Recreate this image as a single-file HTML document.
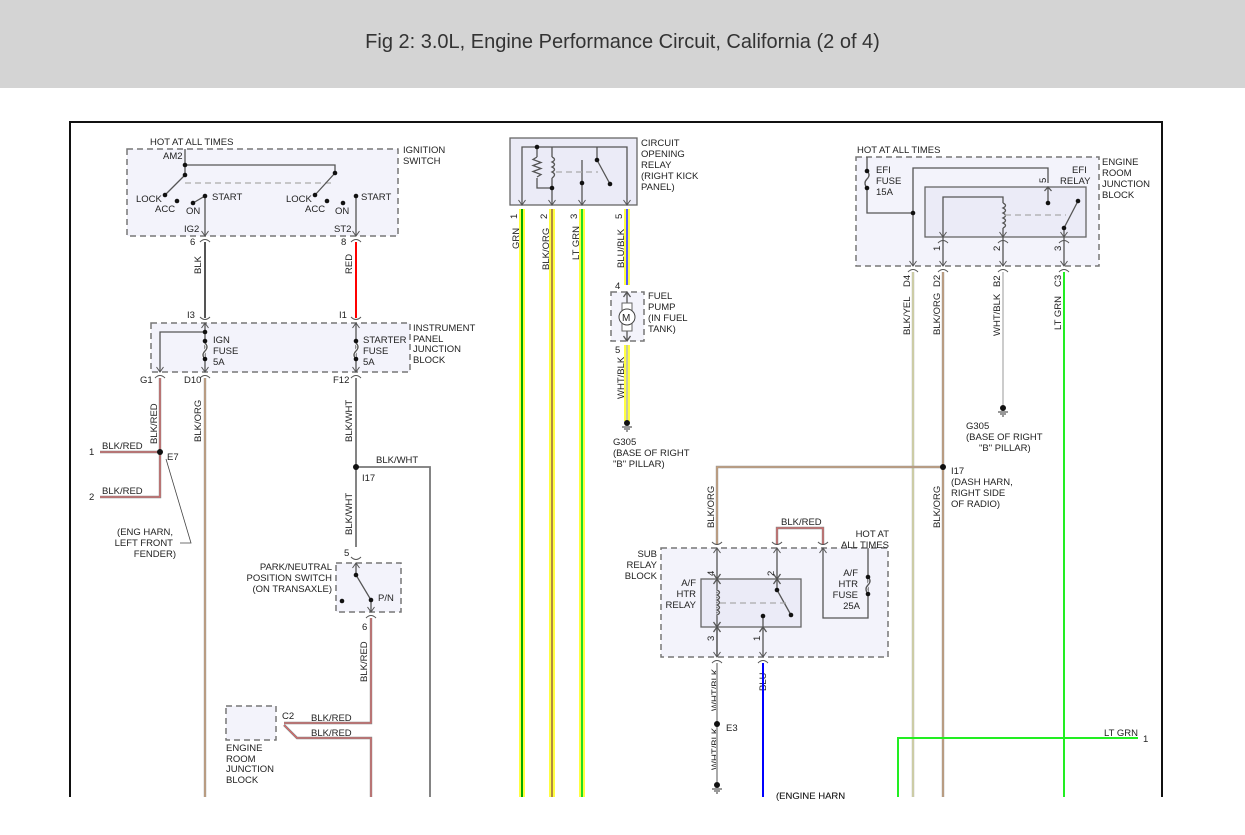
<!DOCTYPE html>
<html><head><meta charset="utf-8"><style>
body{margin:0;width:1245px;height:835px;background:#fff;overflow:hidden;font-family:"Liberation Sans",sans-serif}
#hd{position:absolute;left:0;top:0;width:1245px;height:88px;background:#d4d4d4;text-align:center;line-height:84px;font-size:20px;color:#333}
svg{position:absolute;left:0;top:0}
text{font-family:"Liberation Sans",sans-serif;font-size:9.5px;fill:#222}
.r{text-anchor:end}
.dash{fill:#f3f3fb;stroke:#777;stroke-width:1.5;stroke-dasharray:6,4}
.sol{fill:#ebebf7;stroke:#666;stroke-width:1.3}
.ln{stroke:#555;stroke-width:1.3;fill:none}
.dl{stroke:#aaa;stroke-width:1.2;stroke-dasharray:6,4;fill:none}
</style></head><body>
<div id="hd">Fig 2: 3.0L, Engine Performance Circuit, California (2 of 4)</div>
<svg width="1245" height="835" viewBox="0 0 1245 835">
<defs>
<g id="pd"><path d="M-3.5,-5 L0,0 L3.5,-5 M-5,6 Q0,1 5,6" stroke="#555" stroke-width="1" fill="none"/></g>
<g id="pu"><path d="M-3.5,5 L0,0 L3.5,5 M-5,-6 Q0,-1 5,-6" stroke="#555" stroke-width="1" fill="none"/></g>
<g id="gnd"><circle cx="0" cy="0" r="3" fill="#111"/><path d="M-5,4 H5 M-3,6 H3 M-1,8 H1" stroke="#333" stroke-width="1"/></g>
</defs>
<!-- frame -->
<path d="M70,797 V122 H1162 V797" stroke="#111" stroke-width="2" fill="none"/>

<!-- IGNITION SWITCH -->
<rect class="dash" x="127" y="149" width="271" height="87"/>
<text x="150" y="145">HOT AT ALL TIMES</text>
<text x="403" y="153">IGNITION</text><text x="403" y="164">SWITCH</text>
<text x="163" y="159">AM2</text>
<path class="ln" d="M185,149 V175 M185,165 H335 V173"/>
<path class="dl" d="M185,183 H335"/>
<path class="ln" d="M185,175 L165,195 M193,203 L205,196 V236 M335,173 L315,195 M356,196 V236"/>
<g fill="#111"><circle cx="185" cy="165" r="2.3"/><circle cx="185" cy="175" r="2.3"/><circle cx="165" cy="195" r="2.3"/><circle cx="177" cy="201" r="2.3"/><circle cx="193" cy="203" r="2.3"/><circle cx="205" cy="196" r="2.3"/><circle cx="335" cy="173" r="2.3"/><circle cx="315" cy="195" r="2.3"/><circle cx="327" cy="201" r="2.3"/><circle cx="343" cy="203" r="2.3"/><circle cx="356" cy="196" r="2.3"/></g>
<text x="136" y="202">LOCK</text><text x="155" y="212">ACC</text><text x="186" y="214">ON</text><text x="212" y="200">START</text>
<text x="286" y="202">LOCK</text><text x="305" y="212">ACC</text><text x="335" y="214">ON</text><text x="361" y="200">START</text>
<text x="184" y="232">IG2</text><text x="334" y="232">ST2</text>
<use href="#pd" x="205" y="236"/><use href="#pd" x="356" y="236"/>
<text x="190" y="245">6</text><text x="341" y="245">8</text>
<path d="M205,242 V318" stroke="#555" stroke-width="2"/>
<path d="M356,242 V318" stroke="#f00" stroke-width="2"/>
<text transform="translate(201,274) rotate(-90)">BLK</text>
<text transform="translate(352,274) rotate(-90)">RED</text>
<text x="187" y="318">I3</text><text x="339" y="318">I1</text>

<!-- INSTRUMENT PANEL JB -->
<rect class="dash" x="151" y="323" width="259" height="49"/>
<use href="#pu" x="205" y="323"/><use href="#pu" x="356" y="323"/>
<path class="ln" d="M205,323 V372 M205,332 H160 V372 M356,323 V372"/>
<path d="M205,343 q4,4 0,8 q-4,4 0,8 M356,343 q4,4 0,8 q-4,4 0,8" stroke="#fff" stroke-width="3" fill="none"/>
<path d="M205,343 q4,4 0,8 q-4,4 0,8 M356,343 q4,4 0,8 q-4,4 0,8" class="ln"/>
<g fill="#111"><circle cx="205" cy="332" r="2.3"/><circle cx="205" cy="341" r="2.3"/><circle cx="205" cy="359" r="2.3"/><circle cx="356" cy="341" r="2.3"/><circle cx="356" cy="359" r="2.3"/></g>
<text x="213" y="343">IGN</text><text x="213" y="354">FUSE</text><text x="213" y="365">5A</text>
<text x="363" y="343">STARTER</text><text x="363" y="354">FUSE</text><text x="363" y="365">5A</text>
<text x="413" y="331">INSTRUMENT</text><text x="413" y="342">PANEL</text><text x="413" y="352">JUNCTION</text><text x="413" y="363">BLOCK</text>
<use href="#pd" x="160" y="372"/><use href="#pd" x="205" y="372"/><use href="#pd" x="356" y="372"/>
<text x="140" y="383">G1</text><text x="184" y="383">D10</text><text x="333" y="383">F12</text>

<!-- BLK/RED G1 -->
<path d="M160,378 V497 H100 M160,452 H100" stroke="#888" stroke-width="2.4" fill="none"/>
<path d="M160,378 V497 H100 M160,452 H100" stroke="#f55" stroke-width="0.8" fill="none"/>
<circle cx="160" cy="452" r="3" fill="#111"/>
<text transform="translate(157,444) rotate(-90)">BLK/RED</text>
<text x="89" y="455">1</text><text x="102" y="449">BLK/RED</text>
<text x="89" y="500">2</text><text x="102" y="494">BLK/RED</text>
<text x="167" y="460">E7</text>
<path d="M166,459 L191,543 H180" stroke="#444" stroke-width="0.8" fill="none"/>
<text class="r" x="173" y="535">(ENG HARN,</text><text class="r" x="173" y="546">LEFT FRONT</text><text class="r" x="176" y="557">FENDER)</text>

<!-- D10 BLK/ORG -->
<path d="M205,378 V797" stroke="#999" stroke-width="2.4"/><path d="M205,378 V797" stroke="#e8a060" stroke-width="0.8"/>
<text transform="translate(201,442) rotate(-90)">BLK/ORG</text>

<!-- F12 BLK/WHT -->
<path d="M356,378 V547 M356,467 H430 V797" stroke="#777" stroke-width="1.8" fill="none"/>
<circle cx="356" cy="467" r="3" fill="#111"/>
<text transform="translate(352,442) rotate(-90)">BLK/WHT</text>
<text x="376" y="463">BLK/WHT</text><text x="362" y="481">I17</text>
<text transform="translate(352,535) rotate(-90)">BLK/WHT</text>
<text x="344" y="556">5</text>

<!-- P/N switch -->
<rect class="dash" x="336" y="563" width="65" height="49"/>
<use href="#pu" x="356" y="563"/>
<path class="ln" d="M356,563 V575 L371,600 V612"/>
<g fill="#111"><circle cx="356" cy="575" r="2.3"/><circle cx="371" cy="600" r="2.3"/><circle cx="342" cy="601" r="2.3"/></g>
<text x="378" y="601">P/N</text>
<text class="r" x="332" y="570">PARK/NEUTRAL</text><text class="r" x="332" y="581">POSITION SWITCH</text><text class="r" x="332" y="592">(ON TRANSAXLE)</text>
<use href="#pd" x="371" y="612"/>
<text x="362" y="630">6</text>
<path d="M371,618 V723 H284 M284,725 L297,738 H371 V797" stroke="#888" stroke-width="2.4" fill="none"/>
<path d="M371,618 V723 H284 M284,725 L297,738 H371 V797" stroke="#f55" stroke-width="0.8" fill="none"/>
<text transform="translate(367,682) rotate(-90)">BLK/RED</text>
<text x="311" y="721">BLK/RED</text><text x="311" y="736">BLK/RED</text>
<text x="282" y="719">C2</text>
<rect class="dash" x="226" y="706" width="50" height="34"/>
<text x="226" y="751">ENGINE</text><text x="226" y="762">ROOM</text><text x="226" y="772">JUNCTION</text><text x="226" y="783">BLOCK</text>

<!-- CIRCUIT OPENING RELAY -->
<rect class="sol" x="510" y="138" width="127" height="67"/>
<path class="ln" d="M522,205 V147 H627 V205 M537,147 H552 M537,147 V157 M537,178 V188 H552 M552,147 V157 M552,178 V205 M597,147 V160 L610,184 M582,160 V205"/>
<path class="ln" d="M537,157 l-4,2.5 l8,3 l-8,3 l8,3 l-8,3 l8,3 l-4,2.5"/>
<path class="ln" d="M552,157 q5,2.5 0,5 q5,2.5 0,5 q5,2.5 0,5 q5,2.5 0,6"/>
<path class="dl" d="M556,172 H598"/>
<g fill="#111"><circle cx="537" cy="147" r="2.3"/><circle cx="552" cy="188" r="2.3"/><circle cx="597" cy="160" r="2.3"/><circle cx="610" cy="184" r="2.3"/><circle cx="582" cy="183" r="2.3"/></g>
<text x="641" y="146">CIRCUIT</text><text x="641" y="157">OPENING</text><text x="641" y="168">RELAY</text><text x="641" y="179">(RIGHT KICK</text><text x="641" y="190">PANEL)</text>
<g stroke="#ffff40" stroke-width="6"><path d="M522,209 V797 M552,209 V797 M582,209 V797 M627,209 V285 M627,345 V421"/></g>
<path d="M522,209 V797" stroke="#0a0" stroke-width="2"/>
<path d="M552,209 V797" stroke="#a07040" stroke-width="1.6"/>
<path d="M582,209 V797" stroke="#2d2" stroke-width="2"/>
<path d="M627,209 V285" stroke="#55f" stroke-width="2"/>
<path d="M627,345 V421" stroke="#bbb" stroke-width="1.6"/>
<g stroke="#555" stroke-width="1" fill="none"><path d="M518.5,200 L522,205 L525.5,200 M548.5,200 L552,205 L555.5,200 M578.5,200 L582,205 L585.5,200 M623.5,200 L627,205 L630.5,200"/></g>
<g transform="rotate(-90)"><text x="-219" y="517">1</text><text x="-219" y="547">2</text><text x="-219" y="577">3</text><text x="-219" y="622">5</text>
<text x="-249" y="519">GRN</text><text x="-270" y="549">BLK/ORG</text><text x="-260" y="579">LT GRN</text><text x="-268" y="624">BLU/BLK</text>
<text x="-399" y="624">WHT/BLK</text></g>
<text x="615" y="289">4</text>
<rect class="dash" x="611" y="292" width="33" height="49"/>
<path class="ln" d="M627,292 V341 M623.5,297 L627,292 L630.5,297 M623.5,336 L627,341 L630.5,336"/>
<rect x="622" y="303" width="10" height="28" fill="#fff" stroke="#666"/>
<circle cx="627" cy="317" r="8" fill="#fff" stroke="#444"/>
<text x="622" y="321" style="font-size:10px">M</text>
<text x="615" y="353">5</text>
<text x="648" y="299">FUEL</text><text x="648" y="310">PUMP</text><text x="648" y="321">(IN FUEL</text><text x="648" y="332">TANK)</text>
<use href="#gnd" x="627" y="423"/>
<text x="613" y="445">G305</text><text x="613" y="456">(BASE OF RIGHT</text><text x="613" y="467">"B" PILLAR)</text>

<!-- EFI -->
<rect class="dash" x="856" y="157" width="243" height="109"/>
<text x="857" y="153">HOT AT ALL TIMES</text>
<text x="1102" y="165">ENGINE</text><text x="1102" y="176">ROOM</text><text x="1102" y="187">JUNCTION</text><text x="1102" y="198">BLOCK</text>
<path class="ln" d="M867,157 V171 M867,188 V213 H913 M913,266 V168 H1048 V183"/>
<path class="ln" d="M867,171 q4,4 0,8 q-4,4 0,9"/>
<g fill="#111"><circle cx="867" cy="171" r="2.3"/><circle cx="867" cy="188" r="2.3"/><circle cx="913" cy="213" r="2.3"/></g>
<text x="876" y="173">EFI</text><text x="876" y="184">FUSE</text><text x="876" y="195">15A</text>
<text x="1072" y="173">EFI</text><text x="1060" y="184">RELAY</text>
<rect class="sol" x="925" y="187" width="161" height="50"/>
<path class="ln" d="M943,237 V197 H1003 V203 M1003,228 V237 M1048,187 V203 M1044.5,191 L1048,187 L1051.5,191 M1078,201 L1064,228 V237"/>
<path class="ln" d="M1003,203 q5,2.5 0,5 q5,2.5 0,5 q5,2.5 0,5 q5,2.5 0,5 q5,2.5 0,5"/>
<path class="dl" d="M1005,215 H1066"/>
<g fill="#111"><circle cx="1048" cy="203" r="2.3"/><circle cx="1078" cy="201" r="2.3"/><circle cx="1064" cy="228" r="2.3"/></g>
<path class="ln" d="M943,237 V266 M1003,237 V266 M1064,237 V266"/>
<use href="#pd" x="943" y="237"/><use href="#pd" x="1003" y="237"/><use href="#pd" x="1064" y="237"/>
<use href="#pd" x="913" y="266"/><use href="#pd" x="943" y="266"/><use href="#pd" x="1003" y="266"/><use href="#pd" x="1064" y="266"/>
<text x="1040" y="183" transform="rotate(-90,1043,180)">5</text>
<g transform="rotate(-90)"><text x="-251" y="940">1</text><text x="-251" y="1000">2</text><text x="-251" y="1061">3</text>
<text x="-287" y="910">D4</text><text x="-287" y="940">D2</text><text x="-287" y="1000">B2</text><text x="-287" y="1061">C3</text>
<text x="-335" y="910">BLK/YEL</text><text x="-335" y="940">BLK/ORG</text><text x="-336" y="1000">WHT/BLK</text><text x="-330" y="1061">LT GRN</text>
<text x="-528" y="940">BLK/ORG</text><text x="-528" y="714">BLK/ORG</text>
<text x="-711" y="718">WHT/BLK</text><text x="-770" y="718">WHT/BLK</text><text x="-691" y="766">BLU</text></g>
<path d="M913,272 V797" stroke="#aaa" stroke-width="2.4"/><path d="M913,272 V797" stroke="#ffffa0" stroke-width="0.8"/>
<path d="M943,272 V797 M943,467 H717 V545" stroke="#999" stroke-width="2.4" fill="none"/><path d="M943,272 V797 M943,467 H717 V545" stroke="#e8a060" stroke-width="0.8" fill="none"/>
<path d="M1003,272 V405" stroke="#ccc" stroke-width="2"/>
<path d="M1064,272 V797" stroke="#2e2" stroke-width="2"/>
<circle cx="943" cy="467" r="3" fill="#111"/>
<use href="#gnd" x="1003" y="408"/>
<text x="966" y="429">G305</text><text x="966" y="440">(BASE OF RIGHT</text><text x="979" y="451">"B" PILLAR)</text>
<text x="951" y="474">I17</text><text x="951" y="485">(DASH HARN,</text><text x="951" y="496">RIGHT SIDE</text><text x="951" y="507">OF RADIO)</text>

<!-- SUB RELAY BLOCK -->
<rect class="dash" x="661" y="548" width="227" height="109"/>
<text class="r" x="657" y="557">SUB</text><text class="r" x="657" y="568">RELAY</text><text class="r" x="657" y="579">BLOCK</text>
<text x="781" y="525">BLK/RED</text>
<path d="M777,545 V528 H823 V545" stroke="#888" stroke-width="2.4" fill="none"/><path d="M777,545 V528 H823 V545" stroke="#f55" stroke-width="0.8" fill="none"/>
<use href="#pu" x="717" y="548"/><use href="#pu" x="777" y="548"/><use href="#pu" x="823" y="548"/>
<text class="r" x="889" y="537">HOT AT</text><text class="r" x="889" y="548">ALL TIMES</text>
<path class="ln" d="M823,548 V618 H868 V548 M717,548 V657 M777,548 V590 M763,616 V657"/>
<rect class="sol" x="701" y="579" width="100" height="48"/>
<path class="ln" d="M717,579 V657 M777,579 V590 L791,615 M763,616 V627"/>
<path d="M717,590 q5,2.5 0,5 q5,2.5 0,5 q5,2.5 0,5 q5,2.5 0,5 q5,2.5 0,5" stroke="#ebebf7" stroke-width="3" fill="none"/>
<path class="ln" d="M717,590 q5,2.5 0,5 q5,2.5 0,5 q5,2.5 0,5 q5,2.5 0,5 q5,2.5 0,5"/>
<path class="dl" d="M720,603 H790"/>
<path d="M868,577 q4,4 0,8 q-4,4 0,9" stroke="#f3f3fb" stroke-width="3" fill="none"/>
<path class="ln" d="M868,577 q4,4 0,8 q-4,4 0,9"/>
<g fill="#111"><circle cx="777" cy="590" r="2.3"/><circle cx="791" cy="615" r="2.3"/><circle cx="763" cy="616" r="2.3"/><circle cx="868" cy="577" r="2.3"/><circle cx="868" cy="594" r="2.3"/></g>
<g class="ln"><path d="M713.5,574 L717,579 L720.5,574 M773.5,574 L777,579 L780.5,574 M713.5,584 L717,579 L720.5,584 M773.5,584 L777,579 L780.5,584 M713.5,622 L717,627 L720.5,622 M713.5,632 L717,627 L720.5,632 M759.5,632 L763,627 L766.5,632"/></g>
<text class="r" x="696" y="586">A/F</text><text class="r" x="696" y="597">HTR</text><text class="r" x="696" y="608">RELAY</text>
<text class="r" x="858" y="576">A/F</text><text class="r" x="858" y="587">HTR</text><text class="r" x="858" y="598">FUSE</text><text class="r" x="860" y="609">25A</text>
<g transform="rotate(-90)"><text x="-576" y="714">4</text><text x="-576" y="774">2</text><text x="-641" y="714">3</text><text x="-641" y="760">1</text></g>
<use href="#pd" x="717" y="657"/><use href="#pd" x="763" y="657"/>
<path d="M717,663 V782" stroke="#aaa" stroke-width="2"/>
<path d="M763,663 V797" stroke="#00f" stroke-width="2"/>
<circle cx="717" cy="724" r="3" fill="#111"/><text x="726" y="731">E3</text>
<use href="#gnd" x="717" y="785"/>
<text x="776" y="799">(ENGINE HARN</text>

<!-- LT GRN -->
<path d="M898,797 V738 H1138" stroke="#2e2" stroke-width="2" fill="none"/>
<text x="1104" y="736">LT GRN</text><text x="1143" y="742">1</text>
<rect x="0" y="798" width="1245" height="40" fill="#fff"/>
<text x="776" y="799" style="font-size:9.5px">(ENGINE HARN</text>
</svg>
</body></html>
